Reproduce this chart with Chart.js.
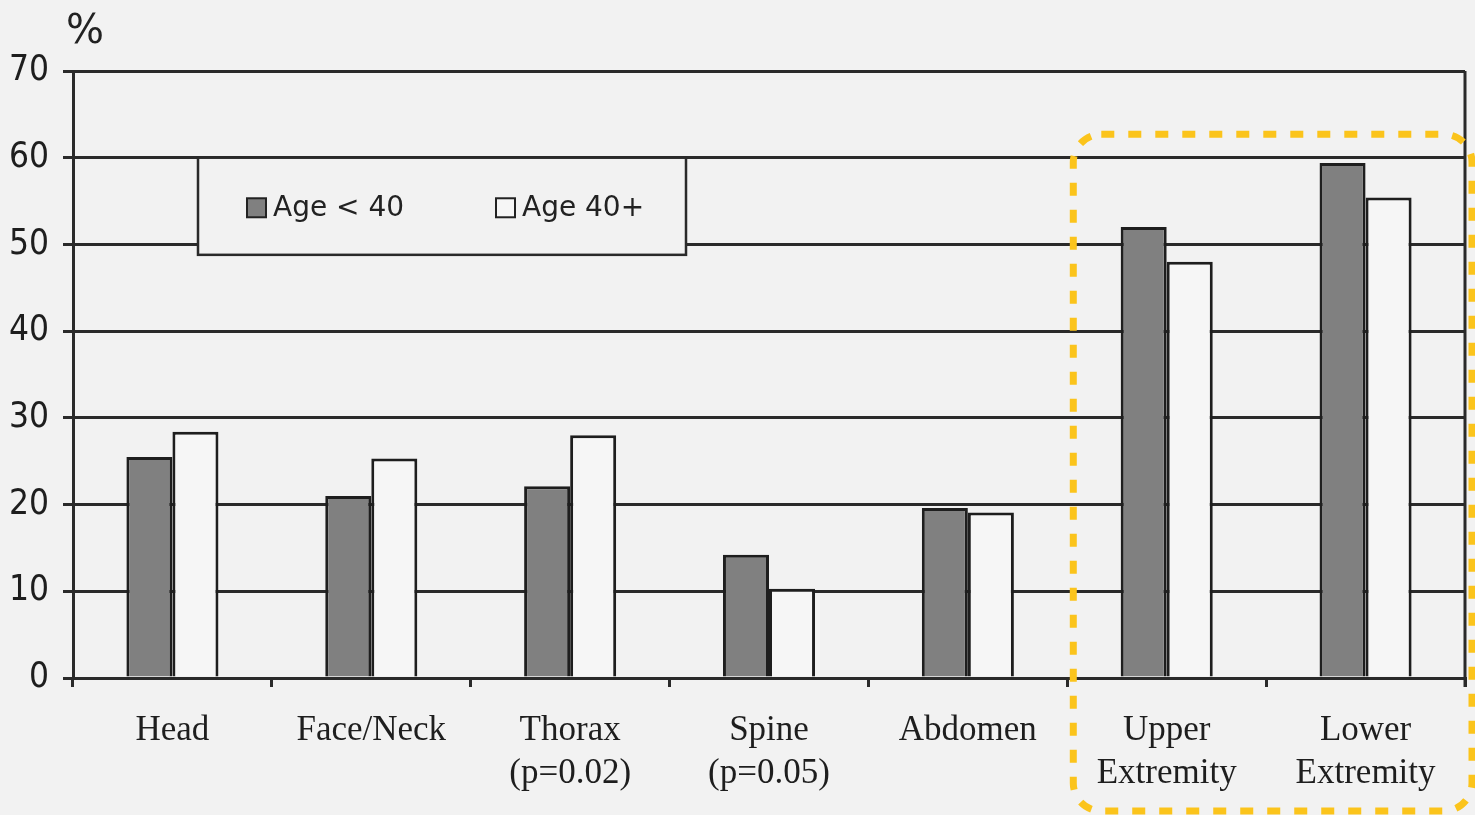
<!DOCTYPE html>
<html>
<head>
<meta charset="utf-8">
<script src="https://cdn.jsdelivr.net/npm/chart.js@4.4.1/dist/chart.umd.min.js"></script>
<style>
  html, body { margin: 0; padding: 0; background: #f2f2f2; }
  #wrap { width: 1475px; height: 815px; position: relative; }
</style>
</head>
<body>
<div id="wrap"><canvas id="c"></canvas></div>
<script>
const categories = [['Head'], ['Face/Neck'], ['Thorax', '(p=0.02)'], ['Spine', '(p=0.05)'], ['Abdomen'], ['Upper', 'Extremity'], ['Lower', 'Extremity']];
const seriesNames = ['Age < 40', 'Age 40+'];
const ageUnder40 = [25.5, 21.0, 22.1, 14.2, 19.6, 52.0, 59.4];
const age40Plus = [28.4, 25.3, 28.0, 10.3, 19.1, 48.0, 55.4];
const yTickValues = [0, 10, 20, 30, 40, 50, 60, 70];
const yUnit = '%';

const BG = '#f2f2f2';
const LINE = '#2a2a2a';

const extras = {
  id: 'extras',
  afterDraw(chart) {
    const ctx = chart.ctx;
    const ca = chart.chartArea;
    const xs = chart.scales.x, ys = chart.scales.y;
    ctx.save();
    // right border of plot
    ctx.strokeStyle = LINE; ctx.lineWidth = 3;
    ctx.beginPath();
    ctx.moveTo(ca.right, ca.top);
    ctx.lineTo(ca.right, ca.bottom + 9);
    ctx.stroke();

    // unit label
    ctx.fillStyle = '#222';
    ctx.font = '40px "DejaVu Sans"';
    ctx.textBaseline = 'alphabetic';
    ctx.textAlign = 'left';
    ctx.fillText(yUnit, 66, 43);

    // legend box
    const lx = ca.left + 125, lr = ca.left + 613;
    const lt = ys.getPixelForValue(60), lb = ys.getPixelForValue(48.8);
    ctx.fillStyle = BG;
    ctx.fillRect(lx, lt, lr - lx, lb - lt);
    ctx.strokeStyle = LINE; ctx.lineWidth = 2.5;
    ctx.strokeRect(lx, lt, lr - lx, lb - lt);
    const cy = (lt + lb) / 2 + 1;
    const items = chart.data.datasets;
    const offs = [49, 298];
    ctx.font = '28px "DejaVu Sans"';
    ctx.textBaseline = 'middle';
    items.forEach((ds, i) => {
      const sx = lx + offs[i];
      ctx.fillStyle = ds.backgroundColor;
      ctx.fillRect(sx, cy - 9, 19, 19);
      ctx.strokeStyle = '#222'; ctx.lineWidth = 2;
      ctx.strokeRect(sx, cy - 9, 19, 19);
      ctx.fillStyle = '#222';
      ctx.fillText(ds.label, sx + 26, cy + 1);
    });

    // yellow dashed highlight
    const half = (xs.getPixelForValue(1) - xs.getPixelForValue(0)) / 2;
    const left = xs.getPixelForValue(5) - half + 6;
    const right = ca.right + 7;
    const top = ys.getPixelForValue(62.7);
    const bottom = chart.height - 4;
    ctx.strokeStyle = '#fbc41c';
    ctx.lineWidth = 7;
    ctx.setLineDash([13, 14]);
    ctx.beginPath();
    ctx.roundRect(left, top, right - left, bottom - top, 28);
    ctx.stroke();
    ctx.restore();
  }
};

new Chart(document.getElementById('c'), {
  type: 'bar',
  data: {
    labels: categories,
    datasets: [
      { label: seriesNames[0], data: ageUnder40, backgroundColor: '#808080', borderColor: '#1e1e1e', borderWidth: 3 },
      { label: seriesNames[1], data: age40Plus, backgroundColor: '#f6f6f6', borderColor: '#1e1e1e', borderWidth: 3 }
    ]
  },
  options: {
    responsive: true,
    maintainAspectRatio: false,
    animation: false,
    layout: { padding: { top: 71, right: 10, left: 0, bottom: 0 } },
    datasets: { bar: { barPercentage: 1, categoryPercentage: 0.463 } },
    plugins: { legend: { display: false }, tooltip: { enabled: false } },
    scales: {
      x: {
        grid: { offset: true, drawOnChartArea: false, drawTicks: true, tickLength: 9, color: LINE, lineWidth: 3 },
        border: { display: true, color: LINE, width: 3 },
        ticks: { color: '#1e1e1e', font: { family: '"Liberation Serif"', size: 35, lineHeight: 1.24 }, padding: 22, maxRotation: 0, autoSkip: false },
        afterFit(s) { s.height = 137; }
      },
      y: {
        min: 0, max: 70,
        afterBuildTicks(s) { s.ticks = yTickValues.map(v => ({ value: v })); },
        grid: { color: LINE, lineWidth: 3, tickLength: 10 },
        border: { display: true, color: LINE, width: 3 },
        ticks: { color: '#1e1e1e', font: { family: '"DejaVu Sans Condensed", "DejaVu Sans"', size: 35 }, padding: 14 },
        afterFit(s) { s.width = 73; }
      }
    }
  },
  plugins: [extras]
});
</script>
</body>
</html>
